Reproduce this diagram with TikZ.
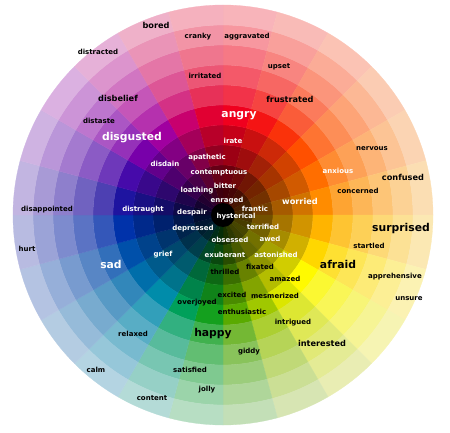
\documentclass[tikz,border=0pt]{standalone}
\usepackage{fontspec}
\setmainfont{DejaVu Sans}

% base hues, clockwise from the top
\definecolor{h0}{RGB}{240,0,30}
\definecolor{h1}{RGB}{245,20,20}
\definecolor{h2}{RGB}{250,50,10}
\definecolor{h3}{RGB}{255,80,0}
\definecolor{h4}{RGB}{255,110,0}
\definecolor{h5}{RGB}{255,140,0}
\definecolor{h6}{RGB}{255,180,0}
\definecolor{h7}{RGB}{255,215,0}
\definecolor{h8}{RGB}{255,250,0}
\definecolor{h9}{RGB}{220,230,0}
\definecolor{h10}{RGB}{160,200,0}
\definecolor{h11}{RGB}{90,170,0}
\definecolor{h12}{RGB}{20,160,30}
\definecolor{h13}{RGB}{0,160,90}
\definecolor{h14}{RGB}{0,140,170}
\definecolor{h15}{RGB}{0,110,170}
\definecolor{h16}{RGB}{0,80,170}
\definecolor{h17}{RGB}{0,50,170}
\definecolor{h18}{RGB}{30,20,160}
\definecolor{h19}{RGB}{70,10,170}
\definecolor{h20}{RGB}{120,0,170}
\definecolor{h21}{RGB}{160,0,160}
\definecolor{h22}{RGB}{200,0,110}
\definecolor{h23}{RGB}{225,0,50}
\definecolor{tint}{RGB}{250,246,248}

\begin{document}
\begin{tikzpicture}[x=1pt,y=1pt,
  sm/.style={font=\bfseries\fontsize{7}{8}\selectfont,inner sep=0pt},
  md/.style={font=\bfseries\fontsize{8.2}{9}\selectfont,inner sep=0pt},
  bg/.style={font=\bfseries\fontsize{10.8}{12}\selectfont,inner sep=0pt},
  wt/.style={text=white},
  bk/.style={text=black}]
  \useasboundingbox (0,0) rectangle (450,432);
  % the wheel: 10 rings of 24 segments
  \begin{scope}[shift={(223,217)}]
    \foreach \k in {0,...,9} {
      \pgfmathsetmacro{\ri}{10+20*\k}
      \pgfmathsetmacro{\ro}{30+20*\k}
      \pgfmathtruncatemacro{\lv}{{28,45,65,82,100,80,65,52,40,28}[\k]}
      \pgfmathtruncatemacro{\tw}{100-max(0,\k-4)*10}
      \foreach \j in {0,...,23} {
        \pgfmathtruncatemacro{\jn}{mod(\j+1,24)}
        \pgfmathsetmacro{\aa}{90-15*\j}
        \pgfmathsetmacro{\ab}{75-15*\j}
        \colorlet{hx}{h\j!\tw!h\jn}
        \ifnum\k<5 \colorlet{cx}{hx!\lv!black}\else\colorlet{cx}{hx!\lv!tint}\fi
        \filldraw[fill=cx,draw=cx,line width=0.3pt] (\aa:\ri)
          arc[start angle=\aa,end angle=\ab,radius=\ri] -- (\ab:\ro)
          arc[start angle=\ab,end angle=\aa,radius=\ro] -- cycle;
      }
    }
    \fill[black] (0,0) circle[radius=12];
  \end{scope}

  % labels
  \node[md,bk] (bored) at (156,407) {bored};
  \node[sm,bk] (cranky) at (198,395) {cranky};
  \node[sm,bk] (aggravated) at (247,395) {aggravated};
  \node[sm,bk] (distracted) at (98,380) {distracted};
  \node[sm,bk] (irritated) at (205,356) {irritated};
  \node[sm,bk] (upset) at (279,365) {upset};
  \node[md,bk] (frustrated) at (290,333) {frustrated};
  \node[bg,wt] (angry) at (239,316) {angry};
  \node[sm,wt] (irate) at (233,291) {irate};
  \node[md,bk] (disbelief) at (118,334) {disbelief};
  \node[sm,bk] (distaste) at (99,311) {distaste};
  \node[bg,wt] (disgusted) at (132,294) {disgusted};
  \node[sm,wt] (disdain) at (165,268) {disdain};
  \node[sm,wt] (apathetic) at (207,274) {apathetic};
  \node[sm,wt] (contemptuous) at (219,259) {contemptuous};
  \node[sm,wt] (bitter) at (225,246) {bitter};
  \node[sm,wt] (loathing) at (197,241) {loathing};
  \node[sm,wt] (enraged) at (227,231) {enraged};
  \node[sm,wt] (frantic) at (255,223) {frantic};
  \node[sm,wt] (hysterical) at (236,215) {hysterical};
  \node[sm,wt] (despair) at (192,219) {despair};
  \node[sm,wt] (distraught) at (143,222) {distraught};
  \node[sm,bk] (disappointed) at (47,222) {disappointed};
  \node[sm,wt] (depressed) at (193,203) {depressed};
  \node[sm,wt] (terrified) at (263,205) {terrified};
  \node[sm,wt] (obsessed) at (230,192) {obsessed};
  \node[sm,wt] (awed) at (270,193) {awed};
  \node[sm,wt] (exuberant) at (225,177) {exuberant};
  \node[sm,wt] (astonished) at (276,177) {astonished};
  \node[sm,wt] (grief) at (163,177) {grief};
  \node[bg,wt] (sad) at (111,168) {sad};
  \node[sm,bk] (hurt) at (27,183) {hurt};
  \node[sm,bk] (thrilled) at (225,160) {thrilled};
  \node[sm,bk] (fixated) at (260,165) {fixated};
  \node[sm,bk] (amazed) at (285,153) {amazed};
  \node[sm,bk] (excited) at (232,137) {excited};
  \node[sm,bk] (mesmerized) at (275,136) {mesmerized};
  \node[sm,bk] (overjoyed) at (197,129) {overjoyed};
  \node[sm,bk] (enthusiastic) at (242,120) {enthusiastic};
  \node[sm,bk] (intrigued) at (293,109) {intrigued};
  \node[bg,bk] (happy) at (213,98) {happy};
  \node[sm,bk] (relaxed) at (133,98) {relaxed};
  \node[sm,bk] (giddy) at (249,80) {giddy};
  \node[md,bk] (interested) at (322,89) {interested};
  \node[sm,bk] (satisfied) at (190,62) {satisfied};
  \node[sm,bk] (calm) at (96,62) {calm};
  \node[sm,bk] (jolly) at (207,42) {jolly};
  \node[sm,bk] (content) at (152,34) {content};
  \node[sm,bk] (nervous) at (372,283) {nervous};
  \node[sm,wt] (anxious) at (338,261) {anxious};
  \node[md,bk] (confused) at (403,255) {confused};
  \node[sm,bk] (concerned) at (358,241) {concerned};
  \node[md,wt] (worried) at (300,231) {worried};
  \node[bg,bk] (surprised) at (401,203) {surprised};
  \node[sm,bk] (startled) at (369,186) {startled};
  \node[bg,bk] (afraid) at (338,168) {afraid};
  \node[sm,bk] (apprehensive) at (395,155) {apprehensive};
  \node[sm,bk] (unsure) at (409,133) {unsure};
\end{tikzpicture}
\end{document}
